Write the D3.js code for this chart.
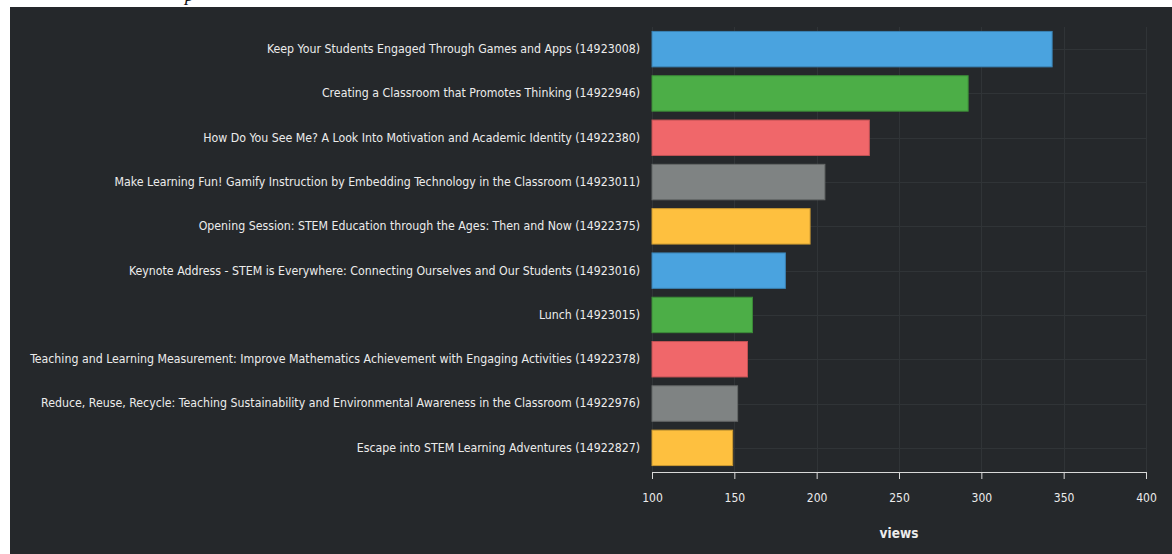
<!DOCTYPE html>
<html>
<head>
<meta charset="utf-8">
<script src="https://cdn.jsdelivr.net/npm/d3@7"></script>
<style>
  body { margin: 0; background: #ffffff; }
  svg { display: block; }
</style>
</head>
<body>
<svg id="chart"></svg>
<script>
// data
const sessions = [
  'Keep Your Students Engaged Through Games and Apps (14923008)',
  'Creating a Classroom that Promotes Thinking (14922946)',
  'How Do You See Me? A Look Into Motivation and Academic Identity (14922380)',
  'Make Learning Fun! Gamify Instruction by Embedding Technology in the Classroom (14923011)',
  'Opening Session: STEM Education through the Ages: Then and Now (14922375)',
  'Keynote Address - STEM is Everywhere: Connecting Ourselves and Our Students (14923016)',
  'Lunch (14923015)',
  'Teaching and Learning Measurement: Improve Mathematics Achievement with Engaging Activities (14922378)',
  'Reduce, Reuse, Recycle: Teaching Sustainability and Environmental Awareness in the Classroom (14922976)',
  'Escape into STEM Learning Adventures (14922827)'
];
const views = [343, 292, 232, 205, 196, 181, 161, 158, 152, 149];
const xTicks = [100, 150, 200, 250, 300, 350, 400];
const palette = ['#4aa3df', '#4cae47', '#f0676a', '#7f8383', '#fec03f'];
const strokes = ['#3a82b3', '#3c8b38', '#c05254', '#656868', '#cb9a32'];

// set up constants
const width = 1172;
const height = 554;
const margin = { top: 27, right: 26, bottom: 84, left: 652 };
const labelFont = 'DejaVu Sans Condensed, DejaVu Sans, sans-serif';

const svg = d3.select('#chart')
  .attr('width', width)
  .attr('height', height);

// cut off caption above the chart
svg.append('text')
  .attr('x', 185)
  .attr('y', 1)
  .attr('font-family', 'Liberation Serif, serif')
  .attr('font-style', 'italic')
  .attr('font-size', 18)
  .attr('fill', '#111')
  .text('p');

// dark panel
svg.append('rect')
  .attr('x', 10)
  .attr('y', 7)
  .attr('width', width - 10)
  .attr('height', height - 7)
  .attr('fill', '#25282b');

// scales
const xScale = d3.scaleLinear()
  .domain([100, 400])
  .range([margin.left, width - margin.right]);

const yScale = d3.scaleBand()
  .domain(sessions)
  .range([margin.top, 470])
  .paddingInner(0.2)
  .paddingOuter(0.1);

// grid
const grid = svg.append('g').attr('stroke', '#303437').attr('stroke-width', 1);
grid.selectAll('line.v')
  .data(xTicks)
  .enter()
  .append('line')
  .attr('x1', d => Math.round(xScale(d)) + 0.5)
  .attr('x2', d => Math.round(xScale(d)) + 0.5)
  .attr('y1', margin.top)
  .attr('y2', 472);
grid.selectAll('line.h')
  .data(sessions)
  .enter()
  .append('line')
  .attr('x1', margin.left)
  .attr('x2', xScale(400))
  .attr('y1', d => Math.round(yScale(d) + yScale.bandwidth() / 2) + 0.5)
  .attr('y2', d => Math.round(yScale(d) + yScale.bandwidth() / 2) + 0.5);

// bars
svg.append('g')
  .selectAll('rect')
  .data(views)
  .enter()
  .append('rect')
  .attr('x', xScale(100))
  .attr('y', (d, i) => yScale(sessions[i]))
  .attr('width', d => xScale(d) - xScale(100))
  .attr('height', yScale.bandwidth())
  .attr('fill', (d, i) => palette[i % palette.length])
  .attr('stroke', (d, i) => strokes[i % strokes.length])
  .attr('stroke-width', 1);

// y labels
const yAxis = d3.axisLeft(yScale).tickSize(0).tickPadding(12);
svg.append('g')
  .attr('transform', `translate(${margin.left}, 0)`)
  .call(yAxis)
  .call(g => g.select('.domain').remove())
  .call(g => g.selectAll('text')
    .attr('fill', '#ececec')
    .attr('font-family', labelFont)
    .attr('font-size', 12.25));

// x axis
const xAxis = d3.axisBottom(xScale).tickValues(xTicks).tickSize(7).tickPadding(14);
svg.append('g')
  .attr('transform', 'translate(0, 472)')
  .call(xAxis)
  .call(g => g.select('.domain').attr('stroke', '#d9d9d9'))
  .call(g => g.selectAll('line').attr('stroke', '#d9d9d9'))
  .call(g => g.selectAll('text')
    .attr('fill', '#ececec')
    .attr('font-family', labelFont)
    .attr('font-size', 12));

// axis title
svg.append('text')
  .attr('x', xScale(250))
  .attr('y', 538)
  .attr('text-anchor', 'middle')
  .attr('fill', '#ececec')
  .attr('font-family', labelFont)
  .attr('font-weight', 'bold')
  .attr('font-size', 13.5)
  .text('views');
</script>
</body>
</html>
